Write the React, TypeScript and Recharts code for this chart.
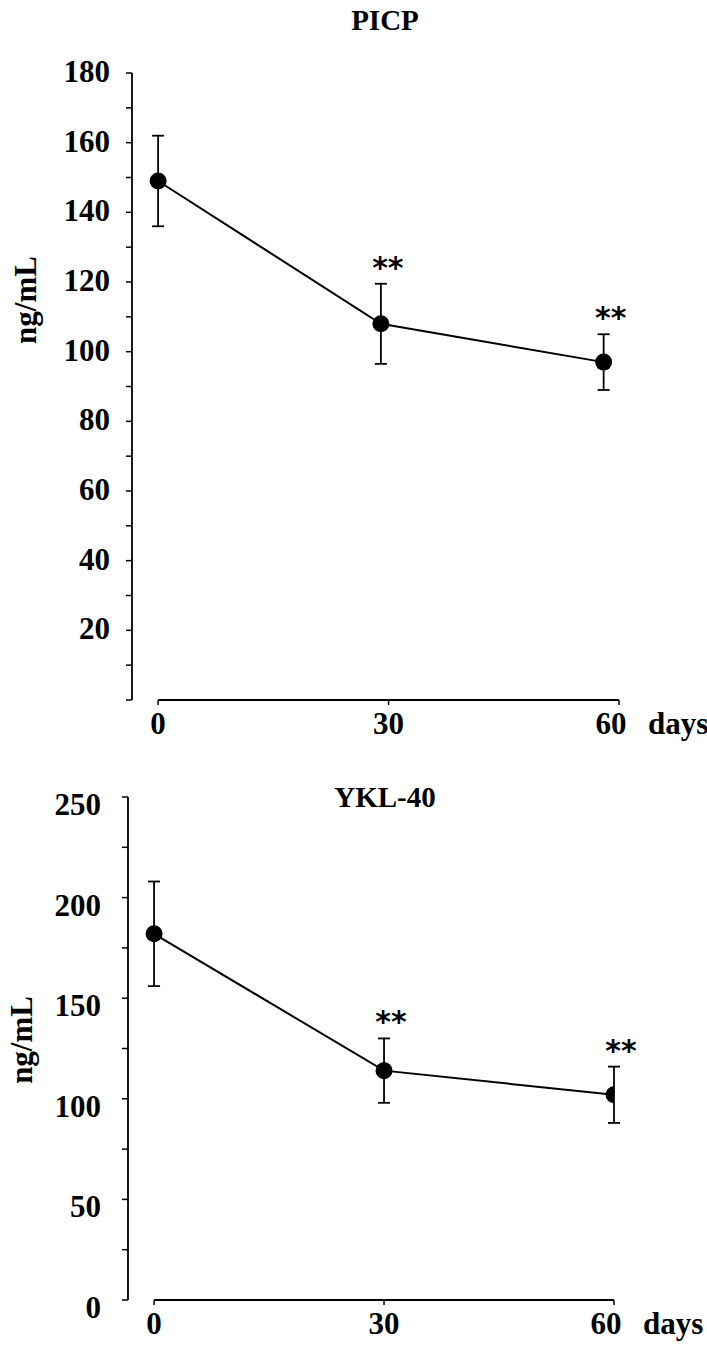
import React from "react";
import {
  ComposedChart,
  ErrorBar,
  Line,
  ReferenceDot,
  ReferenceLine,
  XAxis,
  YAxis,
} from "recharts";

const FONT = "'Liberation Serif', 'Times New Roman', serif";

// PICP panel
const picpDays = [0, 29, 58];
const picpMean = [149, 108, 97];
const picpSd = [13, 11.5, 8];
const picpSig = ["", "**", "**"];
const picpTicks = [0, 10, 20, 30, 40, 50, 60, 70, 80, 90, 100, 110, 120, 130, 140, 150, 160, 170, 180];
const picpLabeled = [20, 40, 60, 80, 100, 120, 140, 160, 180];

// YKL-40 panel
const yklDays = [0, 30, 60];
const yklMean = [182, 114, 102];
const yklSd = [26, 16, 14];
const yklSig = ["", "**", "**"];
const yklTicks = [0, 25, 50, 75, 100, 125, 150, 175, 200, 225, 250];
const yklLabeled = [0, 50, 100, 150, 200, 250];

const dayTicks = [0, 30, 60];

interface Point {
  day: number;
  mean: number;
  sd: number;
  sig: string;
}

function buildRows(days: number[], mean: number[], sd: number[], sig: string[]): Point[] {
  return days.map((d, i) => ({ day: d, mean: mean[i], sd: sd[i], sig: sig[i] }));
}

const textStyle = {
  fill: "#000",
  fontFamily: FONT,
  fontWeight: 700,
  fontSize: 31,
};

function XTick(props: any) {
  const { x, y, payload } = props;
  const v = payload.value;
  return (
    <g>
      <text x={v === 60 ? x - 8 : x} y={y + 25} textAnchor="middle" {...textStyle}>
        {v}
      </text>
      {v === 60 && (
        <text x={x + 29} y={y + 25} textAnchor="start" {...textStyle}>
          days
        </text>
      )}
    </g>
  );
}

function makeYTick(labeled: number[], shift: number) {
  return function YTick(props: any) {
    const { x, y, payload } = props;
    if (!labeled.includes(payload.value)) return <g />;
    return (
      <text x={x} y={y + shift} textAnchor="end" {...textStyle}>
        {payload.value}
      </text>
    );
  };
}

function makeUnitLabel(cx: number, frac: number) {
  return function UnitLabel(props: any) {
    const vb = props.viewBox ?? { x: 0, y: 0, height: 0 };
    const cy = vb.y + vb.height * frac;
    return (
      <text
        x={cx}
        y={cy}
        transform={`rotate(-90, ${cx}, ${cy})`}
        textAnchor="middle"
        dominantBaseline="central"
        {...textStyle}
      >
        ng/mL
      </text>
    );
  };
}

function StarLabel(props: any) {
  const vb = props.viewBox ?? { x: 0, y: 0 };
  return (
    <text
      x={vb.x + 7}
      y={vb.y - 6}
      textAnchor="middle"
      fill="#000"
      fontFamily="'DejaVu Sans', sans-serif"
      fontWeight={700}
      fontSize={30}
    >
      {props.value}
    </text>
  );
}

interface PanelProps {
  title: string;
  rows: Point[];
  yMax: number;
  yTicks: number[];
  yLabeled: number[];
  top: number;
  height: number;
  marginTop: number;
  marginRight: number;
  xAxisHeight: number;
  yAxisWidth: number;
  yTickShift: number;
  yTickMargin: number;
  unitX: number;
  unitFrac: number;
  titleTop: number;
}

function Panel(p: PanelProps) {
  return (
    <div style={{ position: "absolute", left: 0, top: p.top, width: 707, height: p.height }}>
      <div
        style={{
          position: "absolute",
          left: 285,
          width: 200,
          top: p.titleTop,
          textAlign: "center",
          fontFamily: FONT,
          fontWeight: 700,
          fontSize: 29,
          lineHeight: "28px",
          color: "#000",
        }}
      >
        {p.title}
      </div>
      <ComposedChart
        width={707}
        height={p.height}
        data={p.rows}
        margin={{ top: p.marginTop, right: p.marginRight, bottom: 0, left: 0 }}
      >
        <XAxis
          dataKey="day"
          type="number"
          domain={[-3.4, 60]}
          ticks={dayTicks}
          interval={0}
          allowDataOverflow
          axisLine={false}
          tickLine={{ stroke: "#000", strokeWidth: 1.5 }}
          tickSize={5}
          tickMargin={4}
          height={p.xAxisHeight}
          tick={<XTick />}
        />
        <YAxis
          type="number"
          domain={[0, p.yMax]}
          ticks={p.yTicks}
          interval={0}
          width={p.yAxisWidth}
          axisLine={{ stroke: "#000", strokeWidth: 1.8 }}
          tickLine={{ stroke: "#000", strokeWidth: 1.5 }}
          tickSize={6}
          tickMargin={p.yTickMargin}
          tick={makeYTick(p.yLabeled, p.yTickShift)}
          label={{ content: makeUnitLabel(p.unitX, p.unitFrac) }}
        />
        <ReferenceLine
          segment={[
            { x: 0, y: 0 },
            { x: 60, y: 0 },
          ]}
          stroke="#000"
          strokeWidth={1.8}
          ifOverflow="visible"
        />
        <Line
          dataKey="mean"
          type="linear"
          stroke="#000"
          strokeWidth={2}
          dot={{ r: 8.5, fill: "#000", stroke: "#000", strokeWidth: 0 }}
          activeDot={false}
          isAnimationActive={false}
        >
          <ErrorBar dataKey="sd" direction="y" width={6} stroke="#000" strokeWidth={1.8} isAnimationActive={false} />
        </Line>
        {p.rows
          .filter((r) => r.sig)
          .map((r) => (
            <ReferenceDot
              key={r.day}
              x={r.day}
              y={r.mean + r.sd}
              r={0}
              fill="none"
              stroke="none"
              label={{ value: r.sig, content: StarLabel }}
            />
          ))}
      </ComposedChart>
    </div>
  );
}

export default function App() {
  const picpRows = buildRows(picpDays, picpMean, picpSd, picpSig);
  const yklRows = buildRows(yklDays, yklMean, yklSd, yklSig);
  return (
    <div style={{ position: "absolute", left: 0, top: 0, width: 707, height: 1346, background: "#fff" }}>
      <Panel
        title="PICP"
        rows={picpRows}
        yMax={180}
        yTicks={picpTicks}
        yLabeled={picpLabeled}
        top={0}
        height={760}
        marginTop={73}
        marginRight={88}
        xAxisHeight={60}
        yAxisWidth={132}
        yTickShift={9}
        yTickMargin={16}
        unitX={26}
        unitFrac={0.362}
        titleTop={6}
      />
      <Panel
        title="YKL-40"
        rows={yklRows}
        yMax={250}
        yTicks={yklTicks}
        yLabeled={yklLabeled}
        top={740}
        height={606}
        marginTop={57}
        marginRight={93}
        xAxisHeight={46}
        yAxisWidth={128}
        yTickShift={18}
        yTickMargin={21}
        unitX={22}
        unitFrac={0.483}
        titleTop={43}
      />
    </div>
  );
}
